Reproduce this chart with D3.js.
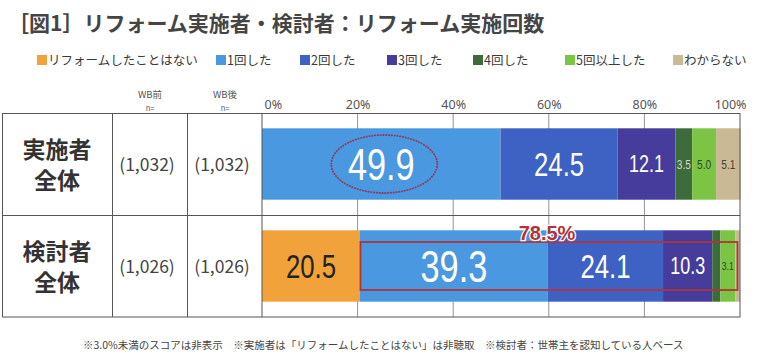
<!DOCTYPE html>
<html><head><meta charset="utf-8">
<script src="https://cdn.jsdelivr.net/npm/d3@7"></script>
<style>
html,body{margin:0;padding:0;background:#fff;}
svg{display:block;}
</style></head>
<body>
<svg id="chart" width="768" height="362"></svg>
<script>
const title = "［図1］リフォーム実施者・検討者：リフォーム実施回数";
const categories = ["実施者全体", "検討者全体"];
const rowLabels = [["実施者", "全体"], ["検討者", "全体"]];
const nBefore = ["(1,032)", "(1,026)"];
const nAfter = ["(1,032)", "(1,026)"];
const seriesNames = ["リフォームしたことはない", "1回した", "2回した", "3回した", "4回した", "5回以上した", "わからない"];
const seriesColors = ["#F2A23A", "#4A98E0", "#3D62C4", "#453C9C", "#3C6B3C", "#7CC443", "#C9B994"];
const labelColors = ["#222", "#fff", "#fff", "#fff", "#d0d8c8", "#2c4a1c", "#4a4232"];
const valuesJisshi = [0, 49.9, 24.5, 12.1, 3.5, 5.0, 5.1];
const valuesKento = [20.5, 39.3, 24.1, 10.3, 1.7, 3.1, 1.0];
const tickValues = [0, 20, 40, 60, 80, 100];
const highlightTotal = "78.5%";
const footnote = "※3.0%未満のスコアは非表示　※実施者は「リフォームしたことはない」は非聴取　※検討者：世帯主を認知している人ベース";

const rows = [valuesJisshi, valuesKento];
const svg = d3.select("#chart");
const jp = "'Noto Sans CJK JP','Noto Sans',sans-serif";
const num = "'Liberation Sans',Arial,sans-serif";

const x = d3.scaleLinear().domain([0, 100]).range([262, 740]);
const yRow = d3.scaleBand().domain(categories).range([113, 317]);
const yBar = d3.scaleBand().domain(categories).range([113, 317]).paddingInner(0.3).paddingOuter(0.15);

// title
svg.append("text").attr("x", 8).attr("y", 31).attr("font-family", jp).attr("font-weight", "bold")
  .attr("font-size", 21).attr("fill", "#454545").text(title);

// legend
const legendX = [37, 216, 300, 387, 473, 565, 673];
const lg = svg.append("g");
seriesNames.forEach((s, i) => {
  lg.append("rect").attr("x", legendX[i]).attr("y", 55).attr("width", 10).attr("height", 10).attr("fill", seriesColors[i]);
  lg.append("text").attr("x", legendX[i] + 11).attr("y", 64.5).attr("font-family", jp).attr("font-size", 12.5)
    .attr("fill", "#3a3a3a").text(s);
});

// headers
[["WB前", 150], ["WB後", 225]].forEach(([t, cx]) => {
  svg.append("text").attr("x", cx).attr("y", 98).attr("text-anchor", "middle").attr("font-family", jp)
    .attr("font-size", 9.5).attr("fill", "#555").text(t);
  svg.append("text").attr("x", cx).attr("y", 110.5).attr("text-anchor", "middle").attr("font-family", jp)
    .attr("font-size", 7.5).attr("fill", "#555").text("n=");
});

// axis tick labels
const axis = d3.axisTop(x).tickValues(tickValues).tickFormat(d => d + "%").tickSize(0).tickPadding(0);
const ax = svg.append("g").attr("transform", "translate(0,109)").call(axis);
ax.select(".domain").remove();
ax.selectAll("text").attr("font-family", "'Noto Sans','DejaVu Sans',sans-serif").attr("font-size", 12.5).attr("fill", "#555");
ax.selectAll(".tick text").attr("text-anchor", d => d === 0 ? "start" : (d === 100 ? "end" : "middle"))
  .attr("dx", d => d === 0 ? 2 : (d === 100 ? 6 : 0));

// gridlines
svg.append("g").selectAll("line").data(tickValues.slice(1, -1)).join("line")
  .attr("x1", d => x(d)).attr("x2", d => x(d)).attr("y1", 113).attr("y2", 317)
  .attr("stroke", "#777").attr("stroke-width", 0.8);

// bars
categories.forEach((c, ri) => {
  const vals = rows[ri];
  let acc = 0;
  const segs = vals.map((v, i) => { const s = {i, v, x0: acc, x1: acc + v}; acc += v; return s; });
  const g = svg.append("g");
  g.selectAll("rect").data(segs.filter(s => s.v > 0)).join("rect")
    .attr("x", s => x(s.x0)).attr("width", s => x(s.x1) - x(s.x0))
    .attr("y", yBar(c)).attr("height", yBar.bandwidth()).attr("fill", s => seriesColors[s.i]);
});

// table borders
const tb = svg.append("g").attr("fill", "none").attr("stroke", "#555").attr("stroke-width", 1);
tb.append("rect").attr("x", 2.5).attr("y", 113.5).attr("width", 737.5).attr("height", 203.5);
tb.append("line").attr("x1", 2.5).attr("x2", 740).attr("y1", yRow(categories[1]) + 0.5).attr("y2", yRow(categories[1]) + 0.5);
[112.5, 187.5, 262].forEach(xx => tb.append("line").attr("x1", xx).attr("x2", xx).attr("y1", 113.5).attr("y2", 317));

// row labels
categories.forEach((c, ri) => {
  const cy = yRow(c) + yRow.bandwidth() / 2;
  rowLabels[ri].forEach((t, k) => {
    svg.append("text").attr("x", 57).attr("y", cy + (k === 0 ? -6 : 25)).attr("text-anchor", "middle")
      .attr("font-family", jp).attr("font-weight", "bold").attr("font-size", 23).attr("fill", "#333").text(t);
  });
  svg.append("text").attr("x", 147).attr("y", cy + 7).attr("text-anchor", "middle").attr("font-family", jp)
    .attr("font-size", 17.5).attr("fill", "#444").text(nBefore[ri]);
  svg.append("text").attr("x", 222).attr("y", cy + 7).attr("text-anchor", "middle").attr("font-family", jp)
    .attr("font-size", 17.5).attr("fill", "#444").text(nAfter[ri]);
});

// value labels (condensed look via horizontal scaling)
function labelSize(ri, i, v) {
  if (v >= 35) return 44;
  if (v >= 20) return 33;
  if (v >= 10) return 23;
  if (ri === 1) return 11;
  return 13;
}
categories.forEach((c, ri) => {
  const vals = rows[ri];
  let acc = 0;
  const cy = yBar(c) + yBar.bandwidth() / 2;
  vals.forEach((v, i) => {
    const x0 = acc; acc += v;
    if (v < 3.0) return;
    const fs = labelSize(ri, i, v);
    svg.append("text")
      .attr("transform", `translate(${x((x0 + acc) / 2)},${cy}) scale(0.78,1)`)
      .attr("dy", "0.36em")
      .attr("text-anchor", "middle").attr("font-family", num).attr("font-size", fs)
      .attr("fill", labelColors[i]).text(v.toFixed(1));
  });
});

// ellipse around 49.9
svg.append("ellipse").attr("cx", x(valuesJisshi[0] + valuesJisshi[1] / 2) + 3).attr("cy", yBar(categories[0]) + yBar.bandwidth() / 2)
  .attr("rx", 53).attr("ry", 29).attr("fill", "none").attr("stroke", "#8E3D62").attr("stroke-width", 1.8)
  .attr("stroke-dasharray", "0.5,2.3").attr("stroke-linecap", "round");

// highlight box
const hx0 = x(valuesKento[0]);
svg.append("rect").attr("x", hx0 + 0.5).attr("y", 242).attr("width", 737 - hx0).attr("height", 48)
  .attr("fill", "none").attr("stroke", "#B0353A").attr("stroke-width", 1.8);
svg.append("text").attr("x", 547).attr("y", 240).attr("text-anchor", "middle").attr("font-family", num)
  .attr("font-weight", "bold").attr("font-size", 20).attr("fill", "#B0353A").attr("stroke", "#fff").attr("stroke-width", 2.5)
  .attr("paint-order", "stroke").text(highlightTotal);

// footnote
svg.append("text").attr("x", 83).attr("y", 349).attr("font-family", jp).attr("font-size", 10.5).attr("fill", "#444").text(footnote);
</script>
</body></html>
